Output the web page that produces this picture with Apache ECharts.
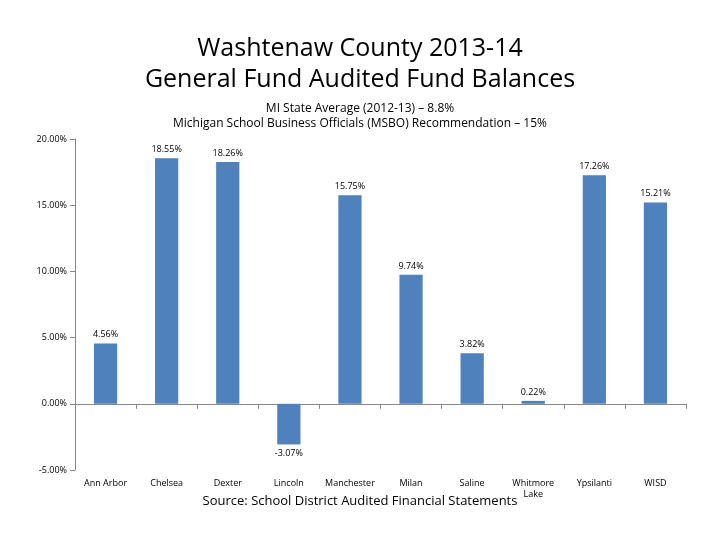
<!DOCTYPE html>
<html>
<head>
<meta charset="utf-8">
<script src="https://cdn.jsdelivr.net/npm/echarts@6/dist/echarts.min.js"></script>
<style>
  html, body { margin: 0; padding: 0; background: #fff; }
  #chart { width: 720px; height: 540px; }
</style>
</head>
<body>
<div id="chart"></div>
<script>
const districts = ["Ann Arbor", "Chelsea", "Dexter", "Lincoln", "Manchester", "Milan", "Saline", "Whitmore\nLake", "Ypsilanti", "WISD"];
const fundBalances = [4.56, 18.55, 18.26, -3.07, 15.75, 9.74, 3.82, 0.22, 17.26, 15.21];

const chart = echarts.init(document.getElementById("chart"));
const font = "Open Sans, Lato, sans-serif";

chart.setOption({
  animation: false,
  textStyle: { fontFamily: font },
  title: [
    {
      text: "Washtenaw County 2013-14\nGeneral Fund Audited Fund Balances",
      left: "center", top: 28,
      textStyle: { fontSize: 25, fontWeight: "normal", color: "#000", lineHeight: 31, fontFamily: font }
    },
    {
      text: "MI State Average (2012-13) \u2013 8.8%\nMichigan School Business Officials (MSBO) Recommendation \u2013 15%",
      left: "center", top: 96,
      textStyle: { fontSize: 12, fontWeight: "normal", color: "#000", lineHeight: 15, fontFamily: font }
    },
    {
      text: "Source: School District Audited Financial Statements",
      left: "center", top: 490,
      textStyle: { fontSize: 13, fontWeight: "normal", color: "#000", fontFamily: font }
    }
  ],
  grid: { left: 75, right: 34, top: 139, bottom: 70 },
  xAxis: {
    type: "category",
    data: districts,
    axisLine: { onZero: true, lineStyle: { color: "#888" } },
    axisTick: { show: true, alignWithLabel: false, lineStyle: { color: "#888" } },
    axisLabel: { color: "#000", fontSize: 9, interval: 0, lineHeight: 11 }
  },
  yAxis: {
    type: "value",
    min: -5, max: 20, interval: 5,
    splitLine: { show: false },
    axisLine: { show: true, lineStyle: { color: "#888" } },
    axisTick: { show: true, lineStyle: { color: "#888" } },
    axisLabel: { color: "#000", fontSize: 9, formatter: (v) => v.toFixed(2) + "%" }
  },
  series: [{
    type: "bar",
    data: fundBalances.map((v) => ({
      value: v,
      label: { position: v < 0 ? "bottom" : "top" }
    })),
    barWidth: "38%",
    itemStyle: { color: "#4f81bd" },
    label: {
      show: true, fontSize: 9, color: "#000", distance: 4,
      formatter: (p) => p.value.toFixed(2) + "%"
    }
  }]
});
</script>
</body>
</html>
